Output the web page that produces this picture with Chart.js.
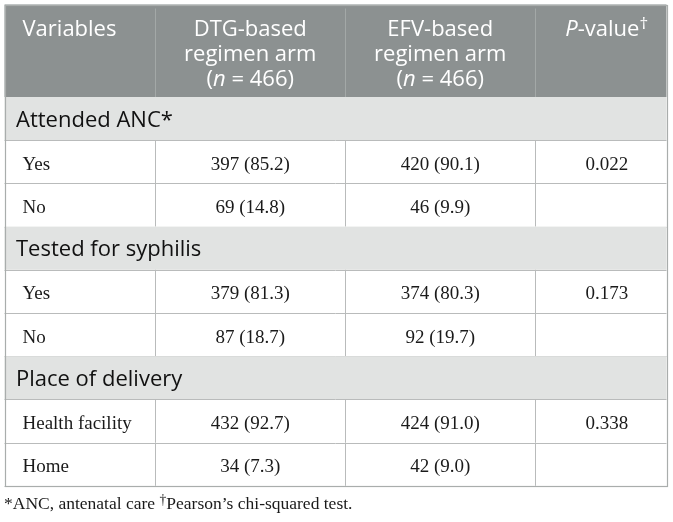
<!DOCTYPE html>
<html lang="en">
<head>
    <meta charset="UTF-8">
    <title>ANC, syphilis testing and place of delivery by arm</title>
    <script src="https://cdn.jsdelivr.net/npm/chart.js"></script>
    <style>
        html, body { margin: 0; padding: 0; background: #ffffff; }
        #wrap { width: 673px; height: 522px; }
    </style>
</head>
<body>
<div id="wrap"><canvas id="tbl"></canvas></div>
<script>
    // table content
    const headers = [
        ['Variables'],
        ['DTG-based', 'regimen arm', '(<i>n</i> = 466)'],
        ['EFV-based', 'regimen arm', '(<i>n</i> = 466)'],
        ['<i>P</i>-value<sup>†</sup>']
    ];
    const sections = ['Attended ANC*', 'Tested for syphilis', 'Place of delivery'];
    const categories = [['Yes', 'No'], ['Yes', 'No'], ['Health facility', 'Home']];
    const dtgCounts = [[397, 69], [379, 87], [432, 34]];
    const dtgPct = [[85.2, 14.8], [81.3, 18.7], [92.7, 7.3]];
    const efvCounts = [[420, 46], [374, 92], [424, 42]];
    const efvPct = [[90.1, 9.9], [80.3, 19.7], [91.0, 9.0]];
    const pValues = [0.022, 0.173, 0.338];
    const footnote = '*ANC, antenatal care <sup>†</sup>Pearson’s chi-squared test.';

    // layout (in canvas units, mapped through the chart scales)
    const colEdges = [4.5, 155, 345.5, 535, 666.5];
    const tableTop = 4.5;
    const headerBottom = 97;
    const rowH = 43.2;
    const pShift = 6;

    const SANS = '"Open Sans", sans-serif';
    const SERIF = '"Liberation Serif", "Times New Roman", serif';

    // split '<i>..</i>' and '<sup>..</sup>' into runs
    function parseRuns(str) {
        const runs = [];
        const re = /<(i|sup)>(.*?)<\/\1>/g;
        let last = 0, m;
        while ((m = re.exec(str)) !== null) {
            if (m.index > last) runs.push({ t: str.slice(last, m.index) });
            runs.push({ t: m[2], it: m[1] === 'i', sup: m[1] === 'sup' });
            last = re.lastIndex;
        }
        if (last < str.length) runs.push({ t: str.slice(last) });
        return runs;
    }

    function drawRuns(ctx, str, x, y, align, size, family) {
        const runs = parseRuns(str);
        const fontOf = r => (r.it ? 'italic ' : '') + (r.sup ? size * 0.78 : size) + 'px ' + family;
        let total = 0;
        runs.forEach(r => { ctx.font = fontOf(r); r.w = ctx.measureText(r.t).width; total += r.w; });
        let cx = align === 'center' ? x - total / 2 : x;
        ctx.textAlign = 'left';
        ctx.textBaseline = 'alphabetic';
        runs.forEach(r => {
            ctx.font = fontOf(r);
            ctx.fillText(r.t, cx, r.sup ? y - size * 0.3 : y);
            cx += r.w;
        });
    }

    // build row list
    const rows = [];
    sections.forEach((s, i) => {
        rows.push({ type: 'section', label: s });
        categories[i].forEach((c, j) => {
            rows.push({
                type: 'data',
                cells: [
                    c,
                    dtgCounts[i][j] + ' (' + dtgPct[i][j].toFixed(1) + ')',
                    efvCounts[i][j] + ' (' + efvPct[i][j].toFixed(1) + ')',
                    j === 0 ? pValues[i].toFixed(3) : ''
                ]
            });
        });
    });

    const tablePlugin = {
        id: 'tablePlugin',
        beforeDatasetsDraw(chart) {
            const ctx = chart.ctx;
            const px = v => chart.scales.x.getPixelForValue(v);
            const py = v => chart.scales.y.getPixelForValue(v);
            const left = px(colEdges[0]);
            const right = px(colEdges[colEdges.length - 1]);
            const bottom = py(headerBottom + rows.length * rowH);
            ctx.save();

            // header band
            ctx.fillStyle = '#8c9191';
            ctx.fillRect(left, py(tableTop), right - left, py(headerBottom) - py(tableTop));
            ctx.strokeStyle = '#a3a8a7';
            ctx.lineWidth = 1;
            for (let k = 1; k < colEdges.length - 1; k++) {
                ctx.beginPath();
                ctx.moveTo(Math.round(px(colEdges[k])) + 0.5, py(tableTop) + 4);
                ctx.lineTo(Math.round(px(colEdges[k])) + 0.5, py(headerBottom));
                ctx.stroke();
            }
            ctx.fillStyle = '#ffffff';
            headers.forEach((lines, k) => {
                lines.forEach((ln, li) => {
                    const y = py(tableTop + 31.5 + li * 25);
                    if (k === 0) {
                        drawRuns(ctx, ln, px(colEdges[0] + 18), y, 'left', 22, SANS);
                    } else {
                        let cx = (px(colEdges[k]) + px(colEdges[k + 1])) / 2;
                        if (k === 3) cx += pShift;
                        drawRuns(ctx, ln, cx, y, 'center', 22, SANS);
                    }
                });
            });

            // body rows
            rows.forEach((r, i) => {
                const y0 = py(headerBottom + i * rowH);
                const y1 = py(headerBottom + (i + 1) * rowH);
                const mid = (y0 + y1) / 2;
                if (r.type === 'section') {
                    ctx.fillStyle = '#e1e3e2';
                    ctx.fillRect(left, y0, right - left, y1 - y0);
                    ctx.fillStyle = '#111111';
                    drawRuns(ctx, r.label, px(colEdges[0] + 11.5), mid + 8, 'left', 22, SANS);
                } else {
                    ctx.strokeStyle = '#b9bbbb';
                    ctx.lineWidth = 1;
                    for (let k = 1; k < colEdges.length - 1; k++) {
                        const x = Math.round(px(colEdges[k])) + 0.5;
                        ctx.beginPath();
                        ctx.moveTo(x, y0);
                        ctx.lineTo(x, y1);
                        ctx.stroke();
                    }
                    ctx.fillStyle = '#1a1a1a';
                    r.cells.forEach((c, k) => {
                        if (!c) return;
                        if (k === 0) {
                            drawRuns(ctx, c, px(colEdges[0] + 18), mid + 8, 'left', 19, SERIF);
                        } else {
                            let cx = (px(colEdges[k]) + px(colEdges[k + 1])) / 2;
                            if (k === 3) cx += pShift;
                            drawRuns(ctx, c, cx, mid + 8, 'center', 19, SERIF);
                        }
                    });
                }
                // horizontal rule
                ctx.strokeStyle = '#b9bbbb';
                ctx.beginPath();
                ctx.moveTo(left, Math.round(y1) + 0.5);
                ctx.lineTo(right, Math.round(y1) + 0.5);
                ctx.stroke();
            });

            // outer border
            ctx.strokeStyle = '#a9adac';
            ctx.lineWidth = 1.2;
            ctx.strokeRect(Math.round(left) + 0.5, Math.round(py(tableTop)) + 0.5,
                Math.round(right - left), Math.round(bottom - py(tableTop)));

            // footnote
            ctx.fillStyle = '#1a1a1a';
            drawRuns(ctx, footnote, px(4), py(509), 'left', 17.5, SERIF);
            ctx.restore();
        }
    };

    new Chart(document.getElementById('tbl'), {
        type: 'scatter',
        data: { datasets: [{ data: [], showLine: false }] },
        options: {
            responsive: true,
            maintainAspectRatio: false,
            animation: false,
            layout: { padding: 0 },
            plugins: { legend: { display: false }, tooltip: { enabled: false } },
            scales: {
                x: { type: 'linear', min: 0, max: 673, display: false },
                y: { type: 'linear', min: 0, max: 522, reverse: true, display: false }
            }
        },
        plugins: [tablePlugin]
    });
</script>
</body>
</html>
